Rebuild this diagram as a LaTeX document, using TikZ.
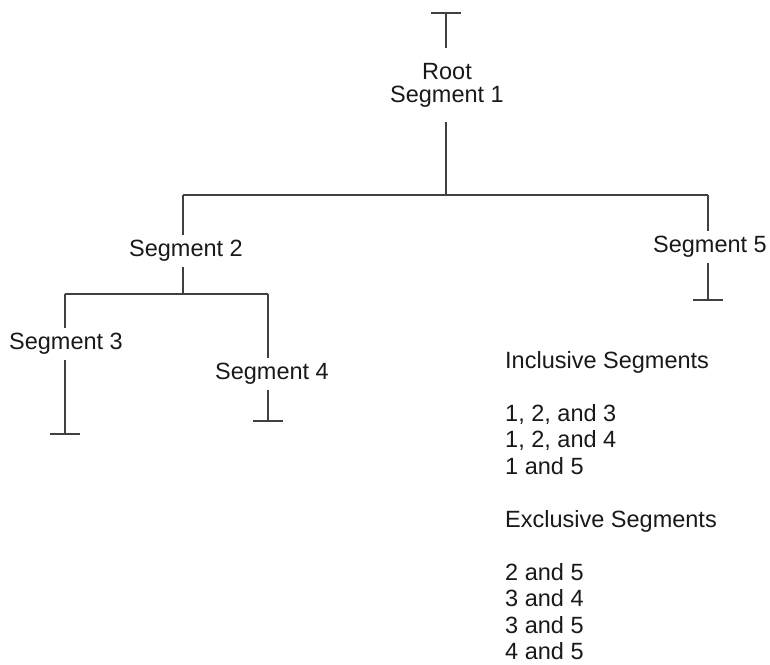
\documentclass[tikz,border=0pt]{standalone}
\usepackage{fontspec}
\setmainfont{Liberation Sans}
\tikzset{
  seg/.style={inner xsep=0pt, inner ysep=5pt, text=black!90},
  ast/.style={line width=1.1pt, draw=black!75},
}
\begin{document}
\begin{tikzpicture}[x=1pt, y=-1pt, font=\fontsize{23.5}{26.5}\selectfont]
        \useasboundingbox (0,0) rectangle (770,664);
        % Wurzel
        \node[seg, align=center, inner ysep=15pt, font=\fontsize{23.5}{23}\selectfont] (root) at (447,85) {Root\\Segment 1};
        \coordinate (t1) at (446,13);
        \coordinate (k1) at (446,195);
        \draw[ast] (t1) -- (root.north -| t1);
        \draw[ast] ([xshift=-15pt]t1) -- ([xshift=15pt]t1);
        \draw[ast] (root.south -| t1) -- (k1);
        % Ebene 1
        \coordinate (k2) at (183,195);
        \coordinate (k5) at (708,195);
        \draw[ast] (k2) -- (k5);
        \node[seg] (seg2) at (186,251) {Segment 2};
        \node[seg] (seg5) at (710,247) {Segment 5};
        \coordinate (t5) at (708,300);
        \draw[ast] (k2) -- (seg2.north -| k2);
        \draw[ast] (k5) -- (seg5.north -| k5);
        \draw[ast] (seg5.south -| k5) -- (t5);
        \draw[ast] ([xshift=-15pt]t5) -- ([xshift=15pt]t5);
        % Ebene 2
        \coordinate (k23) at (183,294);
        \coordinate (k3) at (65,294);
        \coordinate (k4) at (268,294);
        \draw[ast] (seg2.south -| k2) -- (k23);
        \draw[ast] (k3) -- (k4);
        \node[seg] (seg3) at (66,344) {Segment 3};
        \node[seg] (seg4) at (272,374) {Segment 4};
        \coordinate (t3) at (65,434);
        \coordinate (t4) at (268,421);
        \draw[ast] (k3) -- (seg3.north -| k3);
        \draw[ast] (seg3.south -| k3) -- (t3);
        \draw[ast] ([xshift=-15pt]t3) -- ([xshift=15pt]t3);
        \draw[ast] (k4) -- (seg4.north -| k4);
        \draw[ast] (seg4.south -| k4) -- (t4);
        \draw[ast] ([xshift=-15pt]t4) -- ([xshift=15pt]t4);
        % Liste
        \node[anchor=north west, align=left, inner sep=0pt, text=black!90] (sets) at (505,351)
          {Inclusive Segments\\[26.5pt]1, 2, and 3\\1, 2, and 4\\1 and 5\\[26.5pt]Exclusive Segments\\[26.5pt]2 and 5\\3 and 4\\3 and 5\\4 and 5};
    \end{tikzpicture}
\end{document}
